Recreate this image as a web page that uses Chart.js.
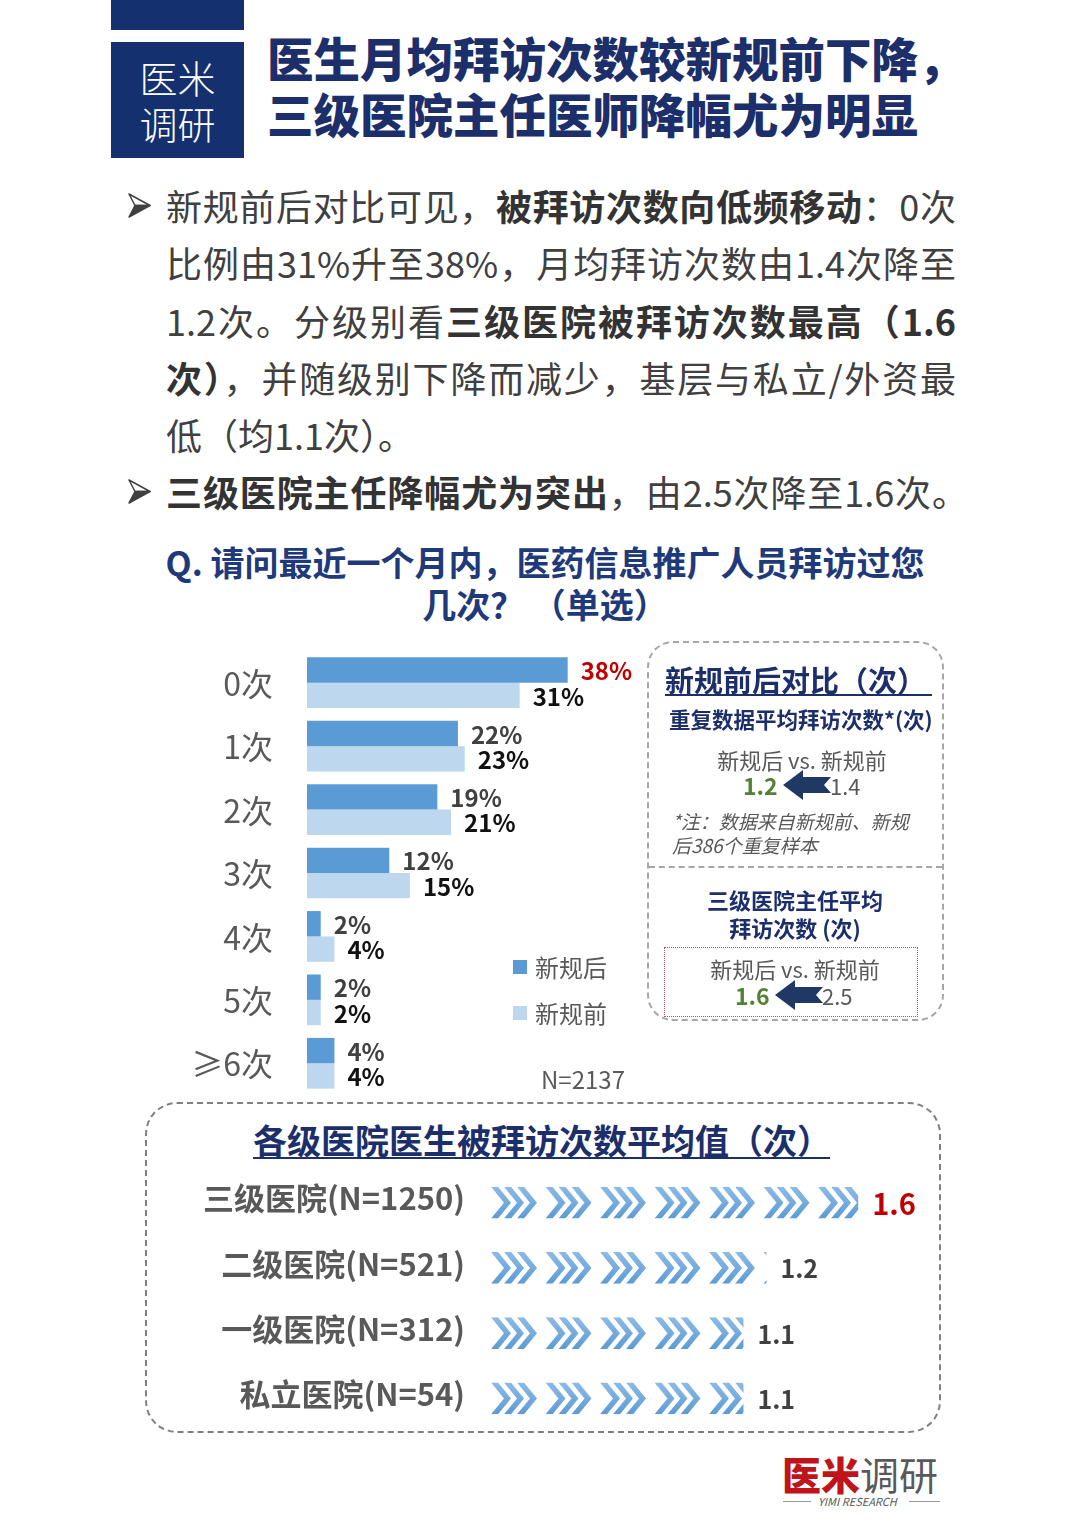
<!DOCTYPE html>
<html lang="zh-CN">
<head>
<meta charset="utf-8">
<script src="https://cdn.jsdelivr.net/npm/chart.js@4.4.1/dist/chart.umd.min.js"></script>
<style>
html,body{margin:0;padding:0;background:#fff;}
body{width:1080px;height:1527px;position:relative;overflow:hidden;font-family:"Noto Sans CJK SC","Noto Sans",sans-serif;}
.a{position:absolute;white-space:nowrap;}
.navy{color:#1c2f6b;}
.gray{color:#595959;}
.body-line{left:166px;width:790px;font-size:36px;line-height:50px;color:#404040;text-align:justify;text-align-last:justify;}
.body-line b{color:#333;font-weight:700;}
canvas{position:absolute;}
</style>
</head>
<body>
<!-- 顶部标题 -->
<div class="a" style="left:111px;top:0;width:133px;height:30px;background:#15306e;"></div>
<div class="a" style="left:111px;top:42px;width:133px;height:116px;background:#15306e;"></div>
<div class="a" style="left:111px;top:54px;width:133px;text-align:center;color:#fff;font-size:38px;line-height:46px;font-weight:300;">医米<br>调研</div>
<div class="a navy" style="left:267px;top:29px;font-size:46.5px;line-height:56px;font-weight:900;">医生月均拜访次数较新规前下降，<br>三级医院主任医师降幅尤为明显</div>

<!-- 正文 -->
<svg class="a" style="left:128px;top:193px;" width="23" height="25" viewBox="0 0 23 25"><polygon points="1,1 22,12.5 7,12.5" fill="#fff" stroke="#404040" stroke-width="1.5" stroke-linejoin="round"/><polygon points="7,12.5 22,12.5 1,24" fill="#404040" stroke="#404040" stroke-width="1.5" stroke-linejoin="round"/></svg>
<div class="a body-line" style="top:180px;">新规前后对比可见，<b>被拜访次数向低频移动</b>：0次</div>
<div class="a body-line" style="top:237px;">比例由31%升至38%，月均拜访次数由1.4次降至</div>
<div class="a body-line" style="top:295px;">1.2次。分级别看<b>三级医院被拜访次数最高（1.6</b></div>
<div class="a body-line" style="top:352px;"><b>次）</b>，并随级别下降而减少，基层与私立/外资最</div>
<div class="a body-line" style="top:409px;text-align-last:left;">低（均1.1次）。</div>
<svg class="a" style="left:128px;top:479px;" width="23" height="25" viewBox="0 0 23 25"><polygon points="1,1 22,12.5 7,12.5" fill="#fff" stroke="#404040" stroke-width="1.5" stroke-linejoin="round"/><polygon points="7,12.5 22,12.5 1,24" fill="#404040" stroke="#404040" stroke-width="1.5" stroke-linejoin="round"/></svg>
<div class="a body-line" style="top:466px;width:802px;"><b>三级医院主任降幅尤为突出</b>，由2.5次降至1.6次。</div>

<!-- 问题 -->
<div class="a" style="left:130px;width:830px;top:541px;text-align:center;font-size:34px;line-height:42px;font-weight:700;color:#1f3a7a;">Q. 请问最近一个月内，医药信息推广人员拜访过您<br>几次？&nbsp;（单选）</div>

<!-- 柱状图 -->
<canvas id="visitChart" width="460" height="444" style="left:190px;top:651px;width:460px;height:444px;"></canvas>
<div class="a" style="left:513px;top:960px;width:14px;height:14px;background:#5b9bd5;"></div>
<div class="a gray" style="left:535px;top:950px;font-size:24px;line-height:34px;">新规后</div>
<div class="a" style="left:513px;top:1006px;width:14px;height:14px;background:#bdd7ee;"></div>
<div class="a gray" style="left:535px;top:996px;font-size:24px;line-height:34px;">新规前</div>
<div class="a gray" style="left:541px;top:1062px;font-size:24px;line-height:34px;">N=2137</div>

<!-- 右侧对比框 -->
<div class="a" style="left:647px;top:641px;width:293px;height:376px;border:2px dashed #a6a6a6;border-radius:26px;"></div>
<div class="a" style="left:649px;top:866px;width:293px;border-top:2px dashed #a6a6a6;"></div>
<div class="a navy" style="left:665px;top:660px;font-size:29px;line-height:38px;font-weight:700;">新规前后对比（次）</div>
<div class="a" style="left:665px;top:694px;width:267px;height:2px;background:#1c2f6b;"></div>
<div class="a navy" style="left:669px;top:704px;font-size:21.5px;line-height:30px;font-weight:700;">重复数据平均拜访次数*(次)</div>
<div class="a gray" style="left:650px;width:304px;top:744px;text-align:center;font-size:22px;line-height:30px;">新规后 vs. 新规前</div>
<div class="a" style="left:743px;top:770px;font-size:23px;line-height:30px;font-weight:700;color:#548235;">1.2</div>
<svg class="a" style="left:783px;top:770px;" width="48" height="30" viewBox="0 0 48 30"><polygon points="0,15 20,0 20,7 48,7 41,15 48,23 20,23 20,30" fill="#1f3864"/></svg>
<div class="a gray" style="left:830px;top:770px;font-size:22px;line-height:30px;">1.4</div>
<div class="a gray" style="left:672px;top:809px;font-size:19px;line-height:24px;font-style:italic;">*注：数据来自新规前、新规<br>后386个重复样本</div>
<div class="a navy" style="left:648px;width:294px;top:885px;text-align:center;font-size:22px;line-height:28px;font-weight:700;">三级医院主任平均<br>拜访次数 (次)</div>
<div class="a" style="left:664px;top:947px;width:252px;height:68px;border:1.5px dotted #c0504d;"></div>
<div class="a gray" style="left:640px;width:310px;top:953px;text-align:center;font-size:22px;line-height:30px;">新规后 vs. 新规前</div>
<div class="a" style="left:735px;top:980px;font-size:23px;line-height:30px;font-weight:700;color:#548235;">1.6</div>
<svg class="a" style="left:775px;top:980px;" width="48" height="30" viewBox="0 0 48 30"><polygon points="0,15 20,0 20,7 48,7 41,15 48,23 20,23 20,30" fill="#1f3864"/></svg>
<div class="a gray" style="left:822px;top:980px;font-size:22px;line-height:30px;">2.5</div>

<!-- 底部各级医院 -->
<div class="a" style="left:145px;top:1102px;width:792px;height:327px;border:2px dashed #808080;border-radius:32px;"></div>
<div class="a navy" style="left:253px;top:1120px;font-size:34px;line-height:40px;font-weight:700;">各级医院医生被拜访次数平均值（次）</div>
<div class="a" style="left:253px;top:1157px;width:577px;height:2px;background:#1c2f6b;"></div>
<canvas id="hospitalChart" width="790" height="261" style="left:160px;top:1170px;width:790px;height:261px;"></canvas>

<!-- 标志 -->
<div class="a" style="left:782px;top:1450px;font-size:39px;line-height:46px;"><span style="color:#c0141b;font-weight:900;">医米</span><span style="color:#595959;">调研</span></div>
<div class="a" style="left:783px;top:1501px;width:28px;height:1px;background:#999;"></div>
<div class="a" style="left:818px;top:1494px;font-size:11px;line-height:14px;font-style:italic;color:#595959;">YIMI RESEARCH</div>
<div class="a" style="left:909px;top:1501px;width:31px;height:1px;background:#999;"></div>

<script>
// 拜访次数分布（%）
const visitCats = ['0次', '1次', '2次', '3次', '4次', '5次', '≥6次'];
const afterShares = [38, 22, 19, 12, 2, 2, 4];   // 新规后
const beforeShares = [31, 23, 21, 15, 4, 2, 4];  // 新规前

// 各级医院平均被拜访次数
const hospitalCats = ['三级医院(N=1250)', '二级医院(N=521)', '一级医院(N=312)', '私立医院(N=54)'];
const hospitalAvg = [1.6, 1.2, 1.1, 1.1];

const FONT = '"Noto Sans CJK SC", "Noto Sans", sans-serif';

// 分类标签：按 y 轴刻度位置右对齐画在绘图区左侧
const catLabels = {
    id: 'catLabels',
    afterDraw(chart, args, opts) {
        const c = chart.ctx;
        const y = chart.scales.y;
        c.save();
        c.font = opts.font;
        c.fillStyle = opts.color;
        c.textAlign = 'right';
        c.textBaseline = 'middle';
        chart.data.labels.forEach((lab, i) => {
            c.fillText(lab, chart.chartArea.left - opts.gap, y.getPixelForValue(i) + (opts.dy || 0));
        });
        c.restore();
    }
};

// 柱子末端的百分比标签
const shareLabels = {
    id: 'shareLabels',
    afterDatasetsDraw(chart) {
        const c = chart.ctx;
        c.save();
        c.font = 'bold 24px ' + FONT;
        c.textBaseline = 'middle';
        chart.data.datasets.forEach((ds, di) => {
            chart.getDatasetMeta(di).data.forEach((bar, i) => {
                c.fillStyle = (di === 0 && i === 0) ? '#c00000' : (di === 0 ? '#404040' : '#111111');
                c.fillText(ds.data[i] + '%', bar.x + 13, bar.y + 1);
            });
        });
        c.restore();
    }
};

// 箭头图形填充的条形 + 数值
function chevron(c, x, top, h) {
    const t = 7, d = 13;
    c.beginPath();
    c.moveTo(x, top);
    c.lineTo(x + t, top);
    c.lineTo(x + t + d, top + h / 2);
    c.lineTo(x + t, top + h);
    c.lineTo(x, top + h);
    c.lineTo(x + d, top + h / 2);
    c.closePath();
    c.fill();
}
const chevronBars = {
    id: 'chevronBars',
    afterDatasetsDraw(chart) {
        const c = chart.ctx;
        const ds = chart.data.datasets[0];
        chart.getDatasetMeta(0).data.forEach((bar, i) => {
            const p = bar.getProps(['x', 'y', 'base', 'height'], true);
            const top = p.y - p.height / 2;
            c.save();
            c.beginPath();
            c.rect(p.base, top, p.x - p.base, p.height);
            c.clip();
            const g = c.createLinearGradient(0, top, 0, top + p.height);
            g.addColorStop(0, '#8dbbe6');
            g.addColorStop(1, '#5b9bd5');
            c.fillStyle = g;
            for (let gx = p.base; gx < p.x; gx += 54.5) {
                for (let k = 0; k < 3; k++) chevron(c, gx + 13 * k, top, p.height);
            }
            c.restore();
            c.save();
            c.textBaseline = 'middle';
            if (i === 0) {
                c.font = 'bold 29px ' + FONT;
                c.fillStyle = '#c00000';
            } else {
                c.font = 'bold 25px ' + FONT;
                c.fillStyle = '#404040';
            }
            c.fillText(String(ds.data[i]), p.x + 14, p.y + 1);
            c.restore();
        });
    }
};

window.onload = function() {
    new Chart(document.getElementById('visitChart').getContext('2d'), {
        type: 'bar',
        data: {
            labels: visitCats,
            datasets: [
                { label: '新规后', data: afterShares, backgroundColor: '#5b9bd5', barPercentage: 1, categoryPercentage: 0.8 },
                { label: '新规前', data: beforeShares, backgroundColor: '#bdd7ee', barPercentage: 1, categoryPercentage: 0.8 }
            ]
        },
        options: {
            indexAxis: 'y',
            responsive: false,
            maintainAspectRatio: false,
            animation: false,
            layout: { padding: 0 },
            plugins: {
                legend: { display: false },
                tooltip: { enabled: false },
                catLabels: { font: '32px ' + FONT, color: '#595959', gap: 34, dy: 1 }
            },
            scales: {
                x: { min: 0, max: 50, display: false },
                y: {
                    grid: { display: false },
                    border: { display: false },
                    ticks: { display: false },
                    afterFit(s) { s.width = 117; }
                }
            }
        },
        plugins: [shareLabels, catLabels]
    });

    new Chart(document.getElementById('hospitalChart').getContext('2d'), {
        type: 'bar',
        data: {
            labels: hospitalCats,
            datasets: [{ data: hospitalAvg, backgroundColor: 'rgba(0,0,0,0)', barPercentage: 1, categoryPercentage: 0.49 }]
        },
        options: {
            indexAxis: 'y',
            responsive: false,
            maintainAspectRatio: false,
            animation: false,
            layout: { padding: 0 },
            plugins: {
                legend: { display: false },
                tooltip: { enabled: false },
                catLabels: { font: 'bold 31px ' + FONT, color: '#595959', gap: 26, dy: -4 }
            },
            scales: {
                x: { min: 0, max: 2, display: false },
                y: {
                    grid: { display: false },
                    border: { display: false },
                    ticks: { display: false },
                    afterFit(s) { s.width = 331; }
                }
            }
        },
        plugins: [chevronBars, catLabels]
    });
};
</script>
</body>
</html>
